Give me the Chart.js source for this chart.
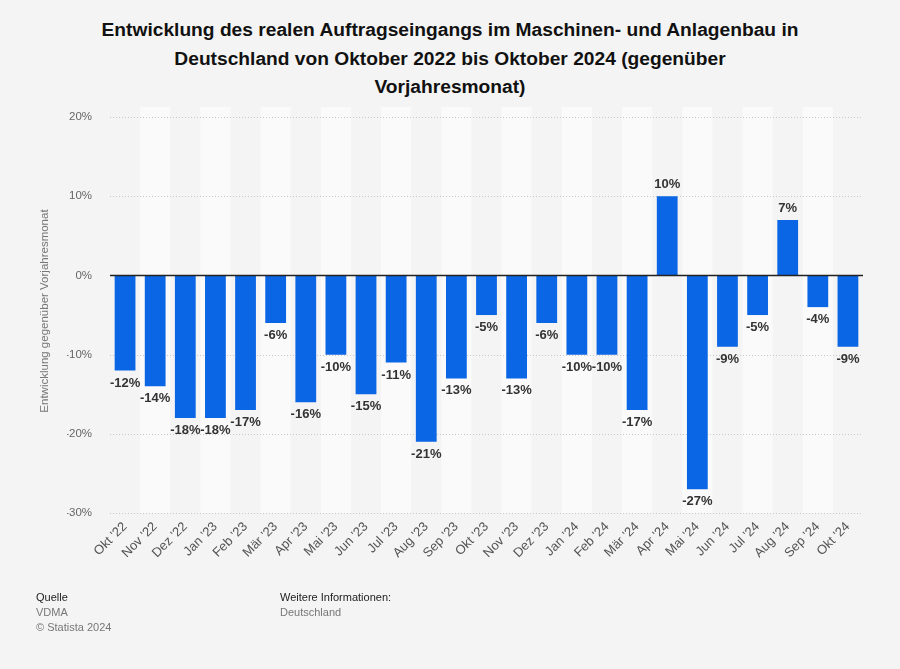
<!DOCTYPE html>
<html>
<head>
<meta charset="utf-8">
<script src="https://cdn.jsdelivr.net/npm/chart.js@4/dist/chart.umd.min.js"></script>
<style>
  html, body { margin:0; padding:0; background:#f4f4f4; }
  body { width:900px; height:669px; position:relative; overflow:hidden; font-family:"Liberation Sans", Arial, sans-serif; }
  #title { position:absolute; left:0; top:16px; width:900px; text-align:center; font-weight:bold; font-size:19.2px; line-height:28.5px; color:#111; }
  #wrap { position:absolute; left:0; top:0; width:900px; height:669px; }
  .foot { position:absolute; font-size:11px; line-height:15px; }
  .foot b { font-weight:normal; color:#222; }
  .foot span { color:#777; }
</style>
</head>
<body>
<div id="title">Entwicklung des realen Auftragseingangs im Maschinen- und Anlagenbau in<br>Deutschland von Oktober 2022 bis Oktober 2024 (gegenüber<br>Vorjahresmonat)</div>
<div id="wrap"><canvas id="c" width="900" height="669"></canvas></div>
<div class="foot" style="left:36px; top:590px;"><b>Quelle</b><br><span>VDMA</span><br><span>© Statista 2024</span></div>
<div class="foot" style="left:280px; top:590px;"><b>Weitere Informationen:</b><br><span>Deutschland</span></div>
<script>
const categories = ["Okt '22","Nov '22","Dez '22","Jan '23","Feb '23","Mär '23","Apr '23","Mai '23","Jun '23","Jul '23","Aug '23","Sep '23","Okt '23","Nov '23","Dez '23","Jan '24","Feb '24","Mär '24","Apr '24","Mai '24","Jun '24","Jul '24","Aug '24","Sep '24","Okt '24"];
const values = [-12,-14,-18,-18,-17,-6,-16,-10,-15,-11,-21,-13,-5,-13,-6,-10,-10,-17,10,-27,-9,-5,7,-4,-9];
const yTicks = [-30,-20,-10,0,10,20];
const yAxisTitle = "Entwicklung gegenüber Vorjahresmonat";

const bandPlugin = {
  id:'bands',
  beforeDatasetsDraw(chart){
    const {ctx, chartArea} = chart;
    const x = chart.scales.x;
    ctx.save();
    ctx.fillStyle = '#fafafa';
    const w = (chartArea.right - chartArea.left) / categories.length;
    for (let i = 1; i < categories.length; i += 2) {
      const cx = x.getPixelForValue(i);
      ctx.fillRect(cx - w/2, chartArea.top - 10, w, chartArea.bottom - chartArea.top + 10);
    }
    const y = chart.scales.y;
    ctx.strokeStyle = '#c8c8c8';
    ctx.lineWidth = 1;
    ctx.setLineDash([1,2]);
    yTicks.forEach(v => {
      if (v === 0) return;
      const py = Math.round(y.getPixelForValue(v)) + 0.5;
      ctx.beginPath(); ctx.moveTo(chartArea.left, py); ctx.lineTo(chartArea.right, py); ctx.stroke();
    });
    ctx.setLineDash([]);
    ctx.translate(45, (chartArea.top + chartArea.bottom) / 2 - 4);
    ctx.rotate(-Math.PI / 2);
    ctx.font = '11.5px "Liberation Sans", Arial, sans-serif';
    ctx.fillStyle = '#777';
    ctx.textAlign = 'center';
    ctx.textBaseline = 'middle';
    ctx.fillText(yAxisTitle, 0, 0);
    ctx.restore();
  },
  afterDatasetsDraw(chart){
    const {ctx, chartArea} = chart;
    const y = chart.scales.y;
    ctx.save();
    const py = Math.round(y.getPixelForValue(0)) + 0.5;
    ctx.strokeStyle = '#222';
    ctx.lineWidth = 1.5;
    ctx.beginPath(); ctx.moveTo(chartArea.left, py); ctx.lineTo(chartArea.right, py); ctx.stroke();
    const meta = chart.getDatasetMeta(0);
    ctx.font = 'bold 13px "Liberation Sans", Arial, sans-serif';
    ctx.fillStyle = '#333';
    ctx.textAlign = 'center';
    meta.data.forEach((bar, i) => {
      const v = values[i];
      const label = v + '%';
      if (v >= 0) { ctx.textBaseline = 'bottom'; ctx.fillText(label, bar.x, bar.y - 5); }
      else { ctx.textBaseline = 'top'; ctx.fillText(label, bar.x, bar.y + 6); }
    });
    ctx.restore();
  }
};

new Chart(document.getElementById('c'), {
  type:'bar',
  data:{ labels:categories, datasets:[{ data:values, backgroundColor:'#0a66e4', categoryPercentage:1, barPercentage:0.69 }] },
  options:{
    responsive:false, animation:false,
    layout:{ padding:{ top:117, right:37, bottom:102, left:67 } },
    plugins:{ legend:{display:false}, tooltip:{enabled:false}, title:{display:false} },
    scales:{
      x:{
        grid:{ display:false, drawTicks:false }, border:{ display:false },
        ticks:{ color:'#555', font:{ size:13, family:'"Liberation Sans", Arial, sans-serif' }, maxRotation:45, minRotation:45, padding:6, autoSkip:false }
      },
      y:{
        min:-30, max:20,
        afterBuildTicks(axis){ axis.ticks = yTicks.map(v => ({value:v})); },
        afterFit(axis){ axis.width = 43; },
        grid:{ display:false, drawTicks:false }, border:{ display:false },
        ticks:{ color:'#666', font:{ size:11.5, family:'"Liberation Sans", Arial, sans-serif' }, padding:18, callback:v => v + '%' },
        title:{ display:false }
      }
    }
  },
  plugins:[bandPlugin]
});
</script>
</body>
</html>
